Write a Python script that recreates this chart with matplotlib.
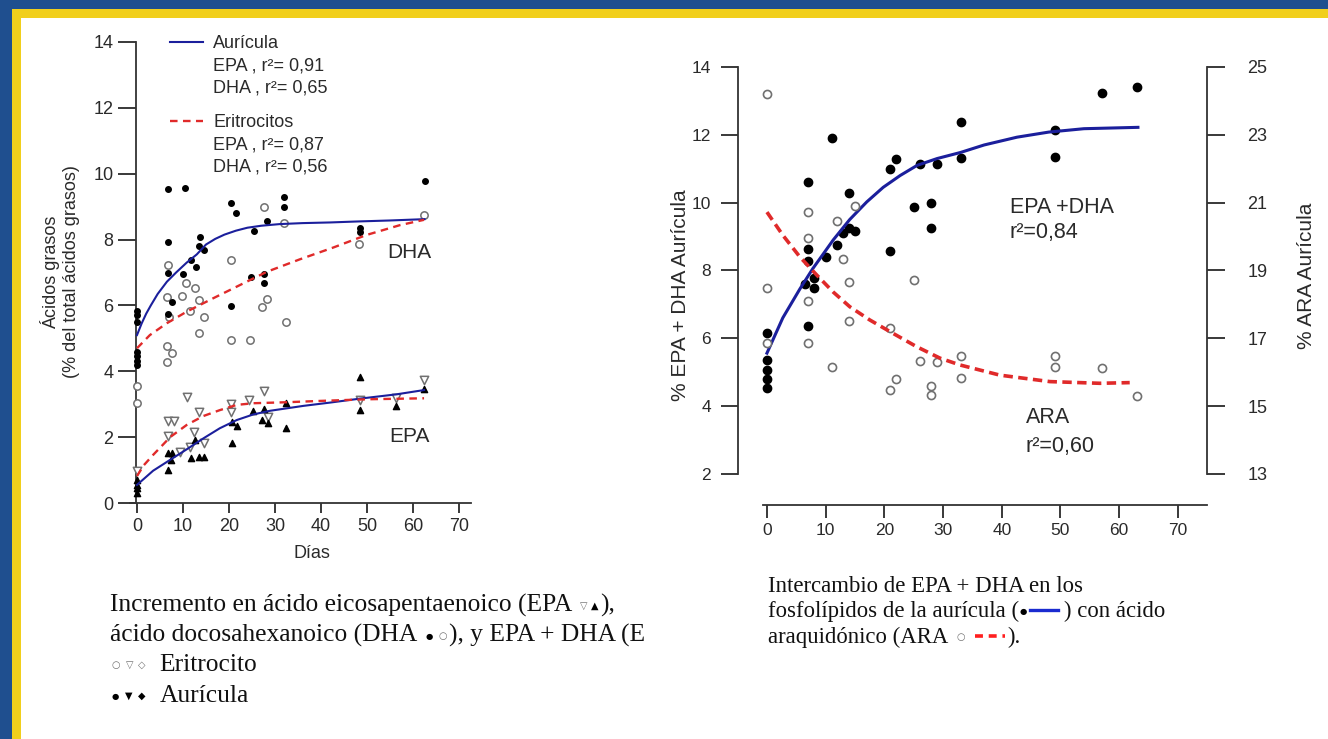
import matplotlib
matplotlib.use("Agg")
import matplotlib.pyplot as plt
from matplotlib.lines import Line2D
from matplotlib.patches import Rectangle
from matplotlib.transforms import Affine2D

W, H = 1328, 739

# ---- left panel: DHA / EPA vs days ----
DHA_AUR_DAYS = [0, 0, 0, 0, 0, 0, 0, 6.8, 10.4, 6.8, 13.7, 13.5, 14.6, 11.7, 12.8, 9.9, 6.8, 7.5, 6.8,
                20.4, 21.5, 28.3, 25.5, 32, 32, 24.8, 27.6, 27.6, 20.4, 48.5, 48.5, 62.6]
DHA_AUR_VALS = [5.84, 5.7, 5.5, 4.6, 4.45, 4.3, 4.2, 9.53, 9.58, 7.94, 8.07, 7.8, 7.68, 7.38, 7.16, 6.95, 7.0, 6.11, 5.74,
                9.12, 8.82, 8.56, 8.26, 9.28, 9.0, 6.87, 6.95, 6.67, 5.99, 8.35, 8.22, 9.79]

DHA_ERI_DAYS = [27.5, 32, 20.4, 6.8, 10.6, 9.7, 12.6, 13.5, 11.5, 14.6, 13.5, 20.4, 24.6, 32.3, 28.2, 27.1,
                6.5, 7, 6.5, 7.5, 6.5, 48.3, 62.4, 0, 0]
DHA_ERI_VALS = [9.0, 8.49, 7.38, 7.23, 6.69, 6.29, 6.52, 6.18, 5.84, 5.64, 5.15, 4.95, 4.95, 5.51, 6.19, 5.96,
                6.25, 5.66, 4.77, 4.56, 4.29, 7.86, 8.75, 3.55, 3.05]

EPA_ERI_DAYS = [10.8, 6.8, 8.0, 6.8, 13.5, 12.4, 14.6, 11.5, 9.3, 20.4, 20.4, 24.4, 27.7, 28.5, 0, 48.5, 56.4, 62.4]
EPA_ERI_VALS = [3.23, 2.5, 2.5, 2.03, 2.77, 2.17, 1.83, 1.71, 1.56, 3.0, 2.77, 3.13, 3.4, 2.62, 0.97, 3.13, 3.18, 3.73]

EPA_AUR_DAYS = [6.8, 7.7, 6.8, 7.3, 11.7, 13.5, 14.6, 12.6, 20.6, 20.6, 21.7, 25.3, 27.1, 27.6, 28.5, 32.4, 32.4,
                0, 0, 0, 0, 48.5, 48.5, 56.4, 62.4]
EPA_AUR_VALS = [1.53, 1.53, 1.0, 1.31, 1.36, 1.39, 1.39, 1.91, 1.83, 2.47, 2.34, 2.79, 2.52, 2.85, 2.42, 3.03, 2.27,
                0.7, 0.55, 0.45, 0.3, 3.83, 2.82, 2.95, 3.45]

# fitted curves
DHA_AUR_FIT_X = [0, 1, 2, 3, 4.5, 6.5, 8.5, 10.8, 13, 15, 17, 19, 21.5, 24, 27, 31, 36, 42, 48, 55, 62.5]
DHA_AUR_FIT_Y = [5.1, 5.45, 5.75, 6.0, 6.35, 6.72, 7.0, 7.3, 7.55, 7.85, 8.02, 8.15, 8.27, 8.36, 8.42, 8.47, 8.5,
                 8.52, 8.55, 8.58, 8.62]
DHA_ERI_FIT_X = [0, 2.8, 6.5, 10.8, 16.6, 22.4, 28.2, 35.4, 42.7, 49.9, 57.2, 62.4]
DHA_ERI_FIT_Y = [4.7, 5.1, 5.46, 5.81, 6.22, 6.62, 7.02, 7.4, 7.76, 8.14, 8.44, 8.6]
EPA_AUR_FIT_X = [0, 3.5, 7.2, 10.8, 14.4, 18, 21.7, 25.3, 28.9, 36.2, 42, 48.5, 56.4, 62.4]
EPA_AUR_FIT_Y = [0.55, 0.98, 1.31, 1.63, 1.96, 2.27, 2.52, 2.69, 2.8, 2.95, 3.05, 3.17, 3.3, 3.43]
EPA_ERI_FIT_X = [0, 1.5, 3.5, 5.5, 7.2, 10.8, 14.4, 18, 21.7, 25.3, 32.5, 39.8, 50, 62.4]
EPA_ERI_FIT_Y = [0.82, 1.15, 1.46, 1.75, 2.0, 2.37, 2.64, 2.82, 2.98, 3.03, 3.06, 3.1, 3.15, 3.18]

# ---- right panel: EPA+DHA and ARA in the atrium ----
EPADHA_DAYS = [0, 0, 0, 0, 0, 7, 7, 7, 6.5, 8, 8, 7, 10, 11, 12, 14, 13, 14, 15, 21, 22, 21, 25, 26,
               28, 28, 29, 33, 33, 49, 49, 57, 63]
EPADHA_VALS = [6.15, 5.36, 5.06, 4.8, 4.53, 10.6, 8.63, 8.28, 7.6, 7.78, 7.48, 6.36, 8.4, 11.9, 8.75, 10.28, 9.1,
               9.25, 9.17, 10.99, 11.28, 8.57, 9.87, 11.14, 9.99, 9.25, 11.14, 12.38, 11.31, 12.14, 11.35, 13.23, 13.41]

ARA_DAYS = [0, 0, 0, 7, 7, 7, 7, 11, 12, 13, 14, 14, 15, 21, 21, 22, 25, 26, 28, 28, 29, 33, 33, 49, 49, 57, 63]
ARA_VALS = [24.2, 18.48, 16.86, 20.72, 19.95, 18.1, 16.86, 16.15, 20.45, 19.34, 18.66, 17.5, 20.9, 17.3, 15.47,
            15.8, 18.72, 16.33, 15.6, 15.32, 16.3, 16.48, 15.83, 16.48, 16.15, 16.12, 15.3]

EPADHA_FIT_X = [0, 2.7, 5.6, 7.8, 11.3, 14.1, 17, 19.8, 22.7, 25.6, 29, 33, 37, 42.6, 48, 54, 63.2]
EPADHA_FIT_Y = [5.56, 6.6, 7.45, 8.05, 8.9, 9.5, 10.02, 10.45, 10.8, 11.1, 11.3, 11.48, 11.7, 11.93, 12.08, 12.18, 12.22]
ARA_FIT_X = [0, 2.7, 5.6, 8.5, 11.3, 14.1, 17.5, 21, 25.5, 29.5, 32.9, 39.7, 48.2, 56.7, 61.8]
ARA_FIT_Y = [20.72, 20.04, 19.4, 18.86, 18.36, 17.93, 17.54, 17.19, 16.75, 16.41, 16.21, 15.91, 15.72, 15.67, 15.69]

LEFT_YTICKS = [0, 2, 4, 6, 8, 10, 12, 14]
RIGHT_YTICKS = [2, 4, 6, 8, 10, 12, 14]
ARA_TICKS = [13, 15, 17, 19, 21, 23, 25]
DAY_TICKS = [0, 10, 20, 30, 40, 50, 60, 70]

BLUE = "#1b1f9c"
RED = "#e02a2a"
GRAY = "#707070"
INK = "#2a2a2a"

plt.rcParams["font.family"] = ["Liberation Sans", "DejaVu Sans"]

fig = plt.figure(figsize=(W / 100, H / 100), dpi=100)
fig.patch.set_facecolor("#1f4f8f")
# pixel coordinates, origin at the top-left corner
pix = Affine2D().scale(1, -1).translate(0, H)


def rect(left, top, right, bottom):
    return [left / W, 1 - bottom / H, (right - left) / W, (bottom - top) / H]


fig.add_artist(Rectangle((12, 9), W, H, transform=pix, facecolor="#f1cf1c", edgecolor="none", zorder=-10))
fig.add_artist(Rectangle((21, 18), W, H, transform=pix, facecolor="white", edgecolor="none", zorder=-9))

# ================= left chart =================
ax1 = fig.add_axes(rect(130.1, 42, 470.5, 503))
ax1.set_facecolor("none")
ax1.set_xlim(-1.5, 72.5)
ax1.set_ylim(0, 14)
for s in ["top", "right"]:
    ax1.spines[s].set_visible(False)
ax1.spines["left"].set_position(("data", -0.3))
for s in ["left", "bottom"]:
    ax1.spines[s].set_color("#333333")
    ax1.spines[s].set_linewidth(1.3)
ax1.set_xticks(DAY_TICKS)
ax1.set_yticks(LEFT_YTICKS)
ax1.tick_params(axis="y", length=13, width=1.3, pad=3, labelsize=13, colors=INK)
ax1.tick_params(axis="x", length=7, width=1.3, pad=4, labelsize=13, colors=INK)

ax1.plot(DHA_AUR_FIT_X, DHA_AUR_FIT_Y, color=BLUE, lw=1.5, zorder=4)
ax1.plot(DHA_ERI_FIT_X, DHA_ERI_FIT_Y, color=RED, lw=1.7, ls=(0, (3.2, 2.3)), zorder=4)
ax1.plot(EPA_AUR_FIT_X, EPA_AUR_FIT_Y, color=BLUE, lw=1.5, zorder=4)
ax1.plot(EPA_ERI_FIT_X, EPA_ERI_FIT_Y, color=RED, lw=1.7, ls=(0, (3.2, 2.3)), zorder=4)

ax1.scatter(DHA_ERI_DAYS, DHA_ERI_VALS, s=28, facecolor="white", edgecolor=GRAY, linewidth=1.1, zorder=3, clip_on=False)
ax1.scatter(DHA_AUR_DAYS, DHA_AUR_VALS, s=16, color="black", zorder=3, clip_on=False)
ax1.scatter(EPA_ERI_DAYS, EPA_ERI_VALS, s=36, marker="v", facecolor="white", edgecolor=GRAY, linewidth=1.1,
            zorder=3, clip_on=False)
ax1.scatter(EPA_AUR_DAYS, EPA_AUR_VALS, s=20, marker="^", color="black", zorder=3, clip_on=False)

ax1.text(59.3, 7.6, "DHA", fontsize=15, ha="center", va="center", color=INK)
ax1.text(59.3, 2.03, "EPA", fontsize=15, ha="center", va="center", color=INK)

blank = Line2D([], [], color="none")
leg1 = ax1.legend([Line2D([], [], color=BLUE, lw=1.5), blank, blank],
                  ["Aurícula", "EPA , r²= 0,91", "DHA , r²= 0,65"],
                  loc="upper left", bbox_to_anchor=(170, 35), bbox_transform=pix, frameon=False,
                  fontsize=13, handlelength=1.85, handletextpad=0.55, labelspacing=0.3,
                  borderpad=0, borderaxespad=0, labelcolor=INK)
ax1.add_artist(leg1)
ax1.legend([Line2D([], [], color=RED, lw=1.7, ls=(0, (3.2, 2.3))), blank, blank],
           ["Eritrocitos", "EPA , r²= 0,87", "DHA , r²= 0,56"],
           loc="upper left", bbox_to_anchor=(170, 114), bbox_transform=pix, frameon=False,
           fontsize=13, handlelength=1.85, handletextpad=0.55, labelspacing=0.3,
           borderpad=0, borderaxespad=0, labelcolor=INK)

fig.text(60, 272, "Ácidos grasos\n(% del total ácidos grasos)", transform=pix, rotation=90,
         ha="center", va="center", multialignment="center", linespacing=1.3, fontsize=13, color=INK)
fig.text(312, 553, "Días", transform=pix, ha="center", va="center", fontsize=13, color=INK)

# ================= right chart =================
ax2 = fig.add_axes(rect(737.6, 67, 1207.2, 505))
ax2.set_facecolor("none")
ax2.set_xlim(-5, 75)
ax2.set_ylim(1.08, 14)
ax2.spines["top"].set_visible(False)
ax2.spines["right"].set_visible(False)
ax2.spines["left"].set_bounds(2, 14)
ax2.spines["bottom"].set_bounds(-0.7, 75)
for s in ["left", "bottom"]:
    ax2.spines[s].set_color("#333333")
    ax2.spines[s].set_linewidth(1.3)
ax2.set_xticks(DAY_TICKS)
ax2.set_yticks(RIGHT_YTICKS)
ax2.tick_params(axis="y", length=12, width=1.3, pad=7, labelsize=12.5, colors=INK)
ax2.tick_params(axis="x", length=9, width=1.3, pad=4, labelsize=12.5, colors=INK)

ax3 = ax2.twinx()
ax3.set_ylim(12.08, 25)
for s in ["top", "left", "bottom"]:
    ax3.spines[s].set_visible(False)
ax3.spines["right"].set_bounds(13, 25)
ax3.spines["right"].set_color("#333333")
ax3.spines["right"].set_linewidth(1.3)
ax3.set_yticks(ARA_TICKS)
ax3.tick_params(axis="y", length=13, width=1.3, pad=16, labelsize=13, colors=INK)

ax3.scatter(ARA_DAYS, ARA_VALS, s=34, facecolor="white", edgecolor=GRAY, linewidth=1.2, zorder=3)
ax2.scatter(EPADHA_DAYS, EPADHA_VALS, s=36, color="black", zorder=3)
ax2.plot(EPADHA_FIT_X, EPADHA_FIT_Y, color=BLUE, lw=2.2, zorder=4)
ax3.plot(ARA_FIT_X, ARA_FIT_Y, color=RED, lw=2.6, ls=(0, (2.6, 1.5)), zorder=4)

ax2.text(41.4, 9.87, "EPA +DHA", fontsize=15.5, ha="left", va="center", color=INK)
ax2.text(41.4, 9.13, "r²=0,84", fontsize=15.5, ha="left", va="center", color=INK)
ax2.text(44.1, 3.65, "ARA", fontsize=15.5, ha="left", va="center", color=INK)
ax2.text(44.1, 2.82, "r²=0,60", fontsize=15.5, ha="left", va="center", color=INK)

fig.text(680, 295, "% EPA + DHA Aurícula", transform=pix, rotation=90, ha="center", va="center",
         fontsize=15, color=INK)
fig.text(1307, 276, "% ARA Aurícula", transform=pix, rotation=90, ha="center", va="center",
         fontsize=15, color=INK)

# ================= captions =================
renderer = fig.canvas.get_renderer()
SERIF = ["Liberation Serif", "DejaVu Serif"]
SYM = ["DejaVu Sans"]


def write_line(parts, x, y, size):
    # parts are laid out left to right starting at pixel x, baseline y
    for part in parts:
        if part[0] == "gap":
            x += part[1]
        elif part[0] == "line":
            _, length, color, style, lw = part
            fig.add_artist(Line2D([x, x + length], [y - 7, y - 7], transform=pix, color=color, ls=style, lw=lw))
            x += length
        else:
            _, text, family, fsize, color = part
            # small symbols are lifted to sit around the x-height
            dy = 0 if family is SERIF else 3
            t = fig.text(x, y - dy, text, transform=pix, ha="left", va="baseline", family=family,
                         fontsize=fsize or size, color=color)
            x += t.get_window_extent(renderer).width


CAP = "#111111"
LS = 18.4
RS = 16.4
write_line([("t", "Incremento en ácido eicosapentaenoico (EPA", SERIF, None, CAP), ("gap", 8),
            ("t", "▽", SYM, 7, GRAY), ("gap", 3), ("t", "▲", SYM, 7, "black"), ("gap", 2),
            ("t", "),", SERIF, None, CAP)], 110, 612, LS)
write_line([("t", "ácido docosahexanoico (DHA", SERIF, None, CAP), ("gap", 8),
            ("t", "●", SYM, 6, "black"), ("gap", 6), ("t", "○", SYM, 7, GRAY), ("gap", 2),
            ("t", "), y EPA + DHA (E", SERIF, None, CAP)], 110, 642, LS)
write_line([("t", "○", SYM, 7, GRAY), ("gap", 5), ("t", "▽", SYM, 7, GRAY), ("gap", 5),
            ("t", "◇", SYM, 7, GRAY), ("gap", 14), ("t", "Eritrocito", SERIF, None, CAP)], 112, 671, LS)
write_line([("t", "●", SYM, 6, "black"), ("gap", 6), ("t", "▼", SYM, 7, "black"), ("gap", 5),
            ("t", "◆", SYM, 7, "black"), ("gap", 14), ("t", "Aurícula", SERIF, None, CAP)], 112, 702, LS)

write_line([("t", "Intercambio de EPA + DHA en los", SERIF, None, CAP)], 768, 592, RS)
write_line([("t", "fosfolípidos de la aurícula (", SERIF, None, CAP), ("t", "●", SYM, 6, "black"),
            ("gap", 4), ("line", 28, "#1a2bd0", "-", 2.4), ("gap", 6),
            ("t", ") con ácido", SERIF, None, CAP)], 768, 617, RS)
write_line([("t", "araquidónico (ARA", SERIF, None, CAP), ("gap", 8), ("t", "○", SYM, 7, GRAY),
            ("gap", 10), ("line", 30, "#ff1f1f", (0, (2.2, 1.6)), 2.6), ("gap", 3),
            ("t", ").", SERIF, None, CAP)], 768, 643, RS)

fig.savefig("out.png", dpi=100, facecolor=fig.get_facecolor())
